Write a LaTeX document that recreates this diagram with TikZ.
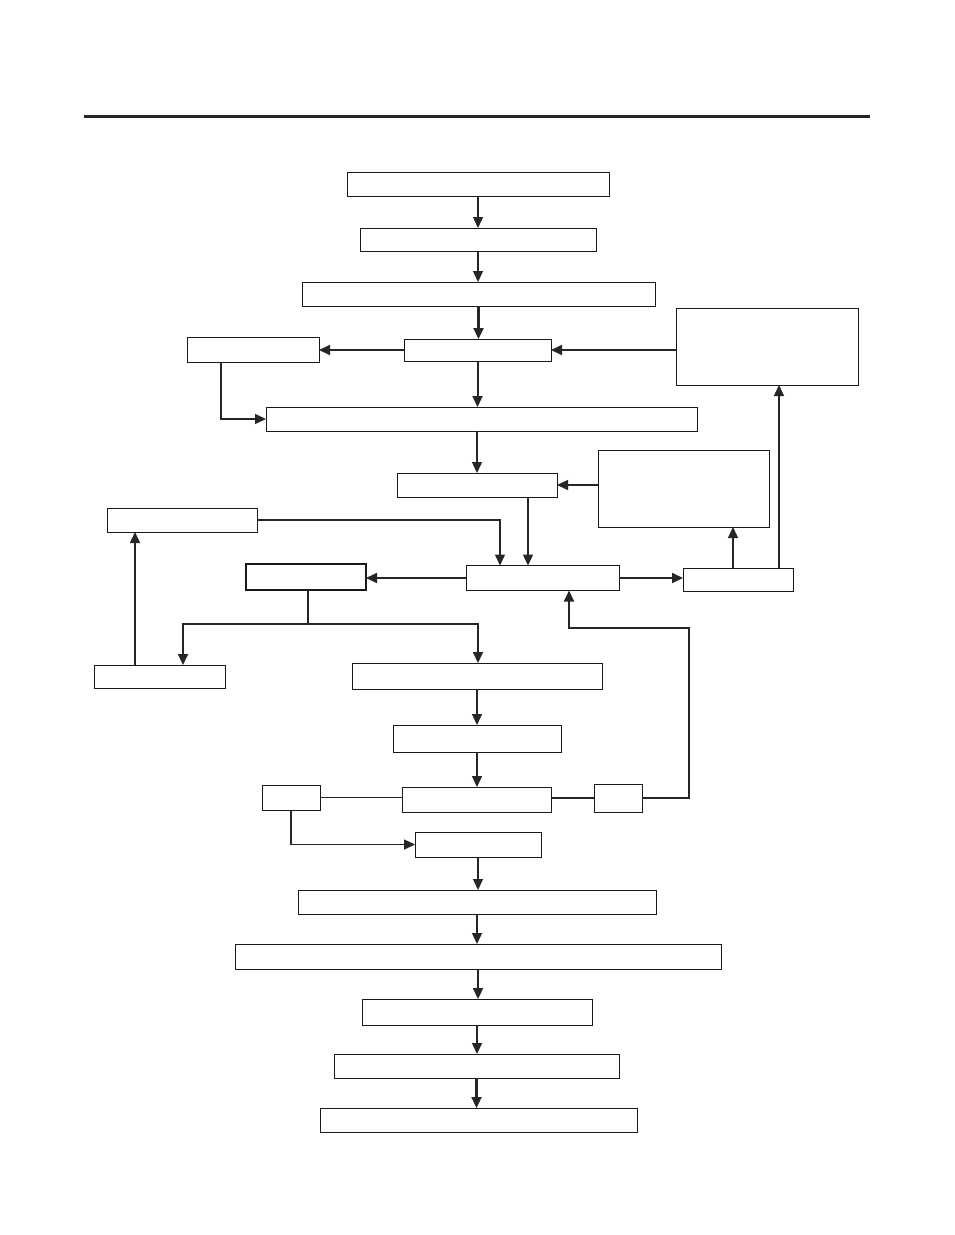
\documentclass[tikz,border=0pt]{standalone}
\usetikzlibrary{arrows.meta,calc}
\begin{document}
\begin{tikzpicture}[x=1pt,y=-1pt,
  box/.style={draw=black!90,line width=1pt,inner sep=0pt,outer sep=0pt,fill=white},
  conn/.style={line width=1.4pt,draw=black!85},
  arr/.style={conn,-{Triangle[length=11pt,width=10pt]}}]
\useasboundingbox (0,0) rectangle (954,1235);
\fill[white] (0,0) rectangle (954,1235);
\draw[line width=3pt,black!85] (84,116) coordinate (r1) -- (870,116) coordinate (r2);
\newcommand{\bx}[5]{\node[box,minimum width=#4pt,minimum height=#5pt] (#1) at (#2,#3) {};}
\bx{B1}{478}{184}{262}{24}
\bx{B2}{478}{239.5}{236}{23}
\bx{B3}{478.5}{294}{353}{24}
\bx{B4}{477.5}{350}{147}{22}
\bx{B4L}{253}{349.5}{132}{25}
\bx{B4R}{767}{346.5}{182}{77}
\bx{B5}{481.5}{419}{431}{24}
\bx{B6}{477}{485}{160}{24}
\bx{B6R}{683.5}{488.5}{171}{77}
\bx{BL1}{182}{520}{150}{24}
\bx{BC}{542.5}{578}{153}{25}
\node[box,line width=1.4pt,minimum width=120pt,minimum height=26pt] (BCL) at (306,577) {};
\bx{BCR}{738}{579.5}{110}{23}
\bx{BLL}{159.5}{676.5}{131}{23}
\bx{B8}{477}{676}{250}{26}
\bx{B9}{477}{738.5}{168}{27}
\bx{B10}{476.5}{799.5}{149}{25}
\bx{B10L}{291}{797.5}{58}{25}
\bx{B10R}{618}{798}{48}{28}
\bx{B11}{478}{844.5}{126}{25}
\bx{B12}{477}{902}{358}{24}
\bx{B13}{478}{956.5}{486}{25}
\bx{B14}{477}{1012}{230}{26}
\bx{B15}{476.5}{1066}{285}{24}
\bx{B16}{478.5}{1120}{317}{24}
% helper coordinates
\coordinate (c6) at (528,497);
\coordinate (cL1) at (500,519);
\coordinate (cR6) at (733,568);
\coordinate (cR4) at (779,568);
\coordinate (split) at (308,624);
\coordinate (cLL) at (183,624);
\coordinate (c8) at (478,624);
\coordinate (cUp) at (135,665);
\coordinate (loopA) at (689,628);
\coordinate (loopB) at (569,628);
% main vertical chain
\draw[arr] (B1.south) -- (B1.south |- B2.north);
\draw[arr] (B2.south) -- (B2.south |- B3.north);
\draw[arr,line width=2.2pt] (B3.south) -- (B3.south |- B4.north);
\draw[arr,line width=2pt] (B4.south) -- (B4.south |- B5.north);
\draw[arr] (B5.south -| B6.north) -- (B6.north);
\draw[arr] (B8.south) -- (B8.south |- B9.north);
\draw[arr] (B9.south) -- (B9.south |- B10.north);
\draw[arr] (B11.south) -- (B11.south |- B12.north);
\draw[arr] (B12.south) -- (B12.south |- B13.north);
\draw[arr,line width=2.2pt] (B13.south) -- (B13.south |- B14.north);
\draw[arr] (B14.south) -- (B14.south |- B15.north);
\draw[arr,line width=2.2pt] (B15.south) -- (B15.south |- B16.north);
% side links
\draw[arr,line width=1.8pt] (B4.west) -- (B4.west -| B4L.east);
\draw[arr,line width=1.8pt] (B4R.west |- B4.east) -- (B4.east);
\draw[arr] (B4L.south -| 221,0) |- (B5.west);
\draw[arr] (B6R.west |- B6.east) -- (B6.east);
\draw[arr] (c6) -- (c6 |- BC.north);
\draw[arr] (BL1.east) -| (cL1 |- BC.north);
\draw[arr,line width=1.8pt] (BC.west) -- (BC.west -| BCL.east);
\draw[arr,line width=1.8pt] (BC.east) -- (BC.east -| BCR.west);
\draw[arr] (cR6) -- (cR6 |- B6R.south);
\draw[arr] (cR4) -- (cR4 |- B4R.south);
\draw[conn] (BCL.south -| split) -- (split);
\draw[arr,line width=1.8pt] (split) -| (cLL |- BLL.north);
\draw[arr,line width=1.8pt] (split) -| (c8 |- B8.north);
\draw[arr] (cUp) -- (cUp |- BL1.south);
\draw[conn] (B10.west |- B10L.east) -- (B10L.east);
\draw[conn] (B10.east |- B10R.west) -- (B10R.west);
\draw[arr,line width=1.8pt] (B10R.east) -| (loopA) -- (loopB) -- (loopB |- BC.south);
\draw[arr] (B10L.south) |- (B11.west);
\end{tikzpicture}
\end{document}
